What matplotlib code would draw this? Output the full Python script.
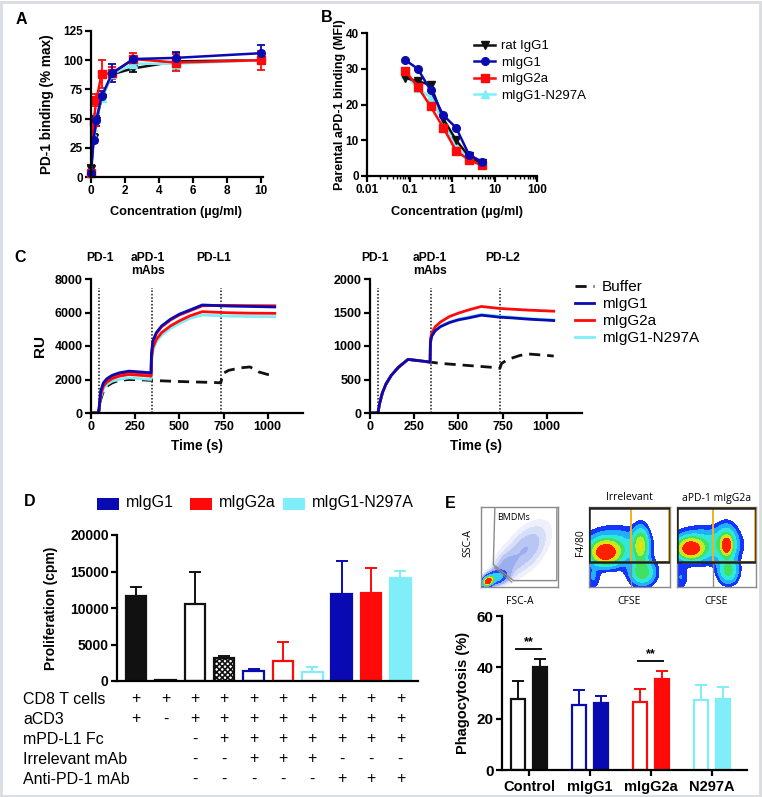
import matplotlib
matplotlib.use('Agg')
import matplotlib.pyplot as plt
import numpy as np
from matplotlib.patches import Rectangle, Polygon
import matplotlib.transforms as mtransforms

plt.rcParams['font.family'] = ['Liberation Sans', 'DejaVu Sans']
plt.rcParams['font.weight'] = 'bold'
plt.rcParams['axes.labelweight'] = 'bold'
plt.rcParams['hatch.linewidth'] = 1.2

W, H = 762, 797
BLUE = '#0A0AB2'
RED = '#FF0A0A'
CYAN = '#80EEF8'
BLACK = '#111111'

# ---------------- Panel A data ----------------
concA = [0, 0.156, 0.3125, 0.625, 1.25, 2.5, 5, 10]
A_rat = [7, 33, 48, 68, 88, 93, 99, 100]
A_rat_err = [3, 4, 4, 4, 4, 3, 7, 2]
A_n297a = [3, 35, 50, 68, 88, 97, 97, 100]
A_n297a_err = [2, 4, 4, 4, 4, 3, 5, 3]
A_mg2a = [3, 47, 66, 88, 89, 101, 98, 100]
A_mg2a_err = [2, 3, 5, 12, 5, 5, 7, 8]
A_mg1 = [3, 32, 49, 69, 89, 101, 102, 106]
A_mg1_err = [2, 2, 3, 5, 8, 3, 5, 7]

# ---------------- Panel B data ----------------
concB = [0.078, 0.156, 0.3125, 0.625, 1.25, 2.5, 5]
B_rat = [27.5, 26.5, 25.5, 16, 10, 5.5, 3.5]
B_mg1 = [32.5, 30, 24, 17, 13.5, 6, 4]
B_mg2a = [29.5, 25, 19.5, 13.5, 7, 4.5, 3]
B_n297a = [28.5, 24.5, 22, 15, 8, 5, 3.5]
B_labels = ['rat IgG1', 'mIgG1', 'mIgG2a', 'mIgG1-N297A']

# ---------------- Panel C data ----------------
tC = [0, 40, 45, 55, 70, 90, 120, 160, 215, 280, 340, 342, 350, 370, 400, 450,
      500, 560, 630, 700, 735, 800, 900, 1040]
CL_mg1 = [0, 0, 200, 1300, 1800, 2050, 2250, 2400, 2500, 2450, 2400, 3500, 4300,
          4800, 5200, 5600, 5900, 6150, 6450, 6420, 6400, 6380, 6360, 6330]
CL_mg2a_1 = [0, 0, 180, 1250, 1750, 2000, 2200, 2350, 2450, 2400, 2350, 3400, 4200,
             4750, 5150, 5550, 5850, 6100, 6400, 6420, 6430, 6420, 6410, 6400]
CL_mg2a_2 = [0, 0, 150, 1100, 1600, 1850, 2050, 2200, 2300, 2250, 2200, 3200, 3900,
             4400, 4800, 5200, 5500, 5800, 6050, 6020, 6000, 5980, 5960, 5950]
CL_n297a = [0, 0, 120, 950, 1450, 1700, 1900, 2000, 2100, 2050, 2000, 3000, 3700,
            4250, 4650, 5050, 5350, 5650, 5850, 5820, 5800, 5780, 5760, 5750]
tBuf = [0, 40, 45, 55, 70, 90, 120, 160, 215, 280, 340, 400, 500, 600, 700, 730,
        735, 745, 780, 850, 900, 950, 1000, 1040]
CL_buf = [0, 0, 100, 800, 1300, 1600, 1800, 1950, 2000, 1980, 1950, 1920, 1880,
          1850, 1820, 1800, 1800, 2350, 2550, 2700, 2750, 2450, 2300, 2220]
CR_mg1 = [0, 0, 0, 150, 300, 430, 560, 680, 800, 780, 760, 1050, 1150, 1230, 1290,
          1350, 1390, 1420, 1460, 1440, 1430, 1420, 1400, 1380]
CR_mg2a = [0, 0, 0, 150, 300, 430, 560, 680, 800, 780, 760, 1100, 1200, 1290, 1360,
           1440, 1490, 1540, 1590, 1570, 1560, 1550, 1535, 1520]
CR_n297a = [0, 0, 0, 150, 300, 430, 560, 680, 800, 780, 760, 1050, 1150, 1235, 1300,
            1360, 1400, 1435, 1470, 1455, 1445, 1430, 1410, 1390]
CR_buf = [0, 0, 0, 150, 300, 430, 560, 680, 800, 780, 760, 740, 720, 700, 680, 670,
          665, 740, 800, 860, 880, 870, 860, 850]
C_inject = [45, 345, 735]
C_leg = ['Buffer', 'mIgG1', 'mIgG2a', 'mIgG1-N297A']

# ---------------- Panel D data ----------------
D_vals = [11650, 100, 10550, 3150, 1370, 2740, 1230, 11900, 12050, 14100]
D_err = [1220, 60, 4380, 270, 270, 2600, 690, 4540, 3430, 970]
D_rows = ['CD8 T cells', 'aCD3', 'mPD-L1 Fc', 'Irrelevant mAb', 'Anti-PD-1 mAb']
D_table = [
    ['+', '+', '+', '+', '+', '+', '+', '+', '+', '+'],
    ['+', '-', '+', '+', '+', '+', '+', '+', '+', '+'],
    ['', '', '-', '+', '+', '+', '+', '+', '+', '+'],
    ['', '', '-', '-', '+', '+', '+', '-', '-', '-'],
    ['', '', '-', '-', '-', '-', '-', '+', '+', '+'],
]
D_leg = ['mIgG1', 'mIgG2a', 'mIgG1-N297A']

# ---------------- Panel E data ----------------
E_groups = ['Control', 'mIgG1', 'mIgG2a', 'N297A']
E_irr = [27.7, 25.4, 26.6, 27.3]
E_irr_err = [7.0, 5.7, 4.9, 5.8]
E_apd1 = [40.1, 26.1, 35.4, 27.5]
E_apd1_err = [3.2, 2.7, 3.1, 4.8]

# flow cytometry density blobs: (x, y, sx, sy, weight, rho)
FLOW1 = [(0.09, 0.07, 0.04, 0.035, 1.0, 0.3), (0.19, 0.12, 0.08, 0.05, 0.3, 0.3),
         (0.58, 0.47, 0.2, 0.22, 0.05, 0.55), (0.3, 0.25, 0.1, 0.12, 0.04, 0.3)]
FLOW2 = [(0.2, 0.43, 0.11, 0.09, 1.0, 0.0), (0.32, 0.5, 0.24, 0.15, 0.3, 0.0),
         (0.64, 0.52, 0.06, 0.14, 0.55, 0.0), (0.66, 0.18, 0.1, 0.1, 0.45, 0.0),
         (0.05, 0.12, 0.06, 0.1, 0.12, 0.0)]
FLOW3 = [(0.17, 0.48, 0.1, 0.08, 1.0, 0.0), (0.35, 0.52, 0.26, 0.14, 0.3, 0.0),
         (0.63, 0.52, 0.035, 0.06, 0.95, 0.0), (0.63, 0.55, 0.08, 0.14, 0.4, 0.0),
         (0.65, 0.2, 0.08, 0.1, 0.4, 0.0), (0.05, 0.12, 0.06, 0.1, 0.12, 0.0)]

fig = plt.figure(figsize=(W / 100, H / 100), dpi=100)


def axes_px(l, t, r, b):
    return fig.add_axes([l / W, 1 - b / H, (r - l) / W, (b - t) / H])


def style(ax, fs=8.5):
    for s in ['top', 'right']:
        ax.spines[s].set_visible(False)
    for s in ['left', 'bottom']:
        ax.spines[s].set_linewidth(1.6)
    ax.tick_params(width=1.6, length=4, labelsize=fs, pad=2)


def ftext(x, y, s, **kw):
    kw.setdefault('ha', 'center')
    kw.setdefault('va', 'center')
    return fig.text(x / W, 1 - y / H, s, **kw)


def ylabel_px(ax, text, x, l, r, fs=9):
    ax.set_ylabel(text, fontsize=fs)
    ax.yaxis.label.set_verticalalignment('center')
    ax.yaxis.set_label_coords((x - l) / (r - l), 0.5)


# ---------- Panel A ----------
ax = axes_px(91, 31, 263, 177)
style(ax)
for vals, err, col, mk in [(A_rat, A_rat_err, BLACK, 'v'), (A_n297a, A_n297a_err, CYAN, '^'),
                           (A_mg2a, A_mg2a_err, RED, 's'), (A_mg1, A_mg1_err, BLUE, 'o')]:
    ax.errorbar(concA, vals, yerr=err, color=col, marker=mk, ms=5.5, lw=1.8,
                capsize=3, elinewidth=1.3, capthick=1.3, clip_on=False)
ax.set_xlim(0, 10.12)
ax.set_ylim(0, 125)
ax.set_xticks([0, 2, 4, 6, 8, 10])
ax.set_yticks([0, 25, 50, 75, 100, 125])
ylabel_px(ax, 'PD-1 binding (% max)', 47, 91, 263, fs=9.8)
ftext(176, 212, 'Concentration (µg/ml)', fontsize=9.2)
ftext(21, 19, 'A', fontsize=11.5)

# ---------- Panel B ----------
ax = axes_px(367, 33, 537, 176)
style(ax)
hs = []
for vals, col, mk, lab in [(B_rat, BLACK, 'v', B_labels[0]), (B_mg1, BLUE, 'o', B_labels[1]),
                           (B_mg2a, RED, 's', B_labels[2]), (B_n297a, CYAN, '^', B_labels[3])]:
    h, = ax.plot(concB, vals, color=col, marker=mk, ms=5.5, lw=1.8, label=lab, clip_on=False)
    hs.append(h)
hs[3].set_zorder(1.5)
hs[0].set_zorder(2.6)
hs[1].set_zorder(2.8)
hs[2].set_zorder(2.7)
ax.set_xscale('log')
ax.set_xlim(0.01, 100)
ax.set_ylim(0, 40)
ax.set_xticks([0.01, 0.1, 1, 10, 100])
ax.set_xticklabels(['0.01', '0.1', '1', '10', '100'])
ax.set_yticks([0, 10, 20, 30, 40])
ax.tick_params(which='minor', width=1.0, length=2.5)
ylabel_px(ax, 'Parental aPD-1 binding (MFI)', 339.5, 367, 537, fs=9)
ftext(457, 212, 'Concentration (µg/ml)', fontsize=9.2)
ftext(327, 18, 'B', fontsize=11.5)
fig.legend(handles=hs, loc='upper left', bbox_to_anchor=(474 / W, 1 - 40 / H),
           frameon=False, prop={'weight': 'normal', 'size': 9.5}, handlelength=1.6,
           handletextpad=0.45, labelspacing=0.32, borderpad=0, borderaxespad=0)

# ---------- Panel C ----------
axL = axes_px(91, 279, 303, 413)
axR = axes_px(370, 279, 582, 413)
for a, ymax, yt in [(axL, 8000, [0, 2000, 4000, 6000, 8000]), (axR, 2000, [0, 500, 1000, 1500, 2000])]:
    style(a, fs=9)
    a.set_xlim(0, 1200)
    a.set_ylim(0, ymax)
    a.set_xticks([0, 250, 500, 750, 1000])
    a.set_yticks(yt)
    for t in C_inject:
        a.plot([t, t], [0, ymax * 0.935], color=BLACK, lw=1.1, ls=(0, (1, 1.2)))
    a.set_xlabel('Time (s)', fontsize=9.8, labelpad=4)

axL.plot(tBuf, CL_buf, color=BLACK, lw=2, ls=(0, (4, 2.5)))
axL.plot(tC, CL_n297a, color=CYAN, lw=2)
axL.plot(tC, CL_mg2a_2, color=RED, lw=2)
axL.plot(tC, CL_mg2a_1, color=RED, lw=2)
axL.plot(tC, CL_mg1, color=BLUE, lw=2)
ylabel_px(axL, 'RU', 40, 91, 303, fs=11)

hb, = axR.plot(tBuf, CR_buf, color=BLACK, lw=2, ls=(0, (4, 2.5)))
hc, = axR.plot(tC, CR_n297a, color=CYAN, lw=2)
hr, = axR.plot(tC, CR_mg2a, color=RED, lw=2)
hbl, = axR.plot(tC, CR_mg1, color=BLUE, lw=2)
fig.legend(handles=[hb, hbl, hr, hc], labels=C_leg, loc='upper left',
           bbox_to_anchor=(575 / W, 1 - 280 / H), frameon=False,
           prop={'weight': 'normal', 'size': 11}, handlelength=1.25,
           handletextpad=0.5, labelspacing=0.2, borderpad=0, borderaxespad=0)

for x, s in [(100, 'PD-1'), (148, 'aPD-1\nmAbs'), (214, 'PD-L1'),
             (375, 'PD-1'), (430, 'aPD-1\nmAbs'), (503, 'PD-L2')]:
    ftext(x, 252, s, fontsize=8.7, va='top', linespacing=1.15)
ftext(20, 257, 'C', fontsize=11.5)

# ---------- Panel D ----------
ax = axes_px(117, 535, 418, 681)
style(ax, fs=10)
xs = np.arange(len(D_vals))
faces = [BLACK, BLACK, 'white', 'white', 'white', 'white', 'white', BLUE, RED, CYAN]
edges = [BLACK, BLACK, BLACK, BLACK, BLUE, RED, CYAN, BLUE, RED, CYAN]
hatches = [None, None, None, 'xxxxxx', None, None, None, None, None, None]
for i in range(len(D_vals)):
    ax.bar(xs[i], D_vals[i], width=0.7, color=faces[i], edgecolor=edges[i],
           linewidth=1.6, hatch=hatches[i], zorder=2)
    ax.errorbar(xs[i], D_vals[i], yerr=[[0], [D_err[i]]], color=edges[i],
                capsize=4, elinewidth=1.4, capthick=1.4, zorder=1)
ax.set_xlim(-0.65, 9.6)
ax.set_ylim(0, 20000)
ax.set_yticks([0, 5000, 10000, 15000, 20000])
ax.set_xticks([])
ylabel_px(ax, 'Proliferation (cpm)', 51, 117, 418, fs=10)
tr = mtransforms.blended_transform_factory(ax.transData, fig.transFigure)
row_y = [699, 719, 739, 759, 779]
for r, lab in enumerate(D_rows):
    ftext(23, row_y[r], lab, fontsize=11.5, fontweight='normal', ha='left')
    for c, s in enumerate(D_table[r]):
        if s:
            ax.text(xs[c], 1 - row_y[r] / H, s, transform=tr, fontsize=11.5,
                    fontweight='normal', ha='center', va='center')
ftext(30, 502, 'D', fontsize=11.5)
for x0, col, lab in [(97, BLUE, D_leg[0]), (190, RED, D_leg[1]), (283, CYAN, D_leg[2])]:
    fig.add_artist(Rectangle((x0 / W, 1 - 510 / H), 22 / W, 12 / H, transform=fig.transFigure,
                             facecolor=col, edgecolor='none'))
    ftext(x0 + 29, 503, lab, fontsize=11.5, fontweight='normal', ha='left')

# ---------- Panel E: flow plots ----------
ftext(450, 503, 'E', fontsize=11.5)
gx = np.linspace(0, 1, 240)
GX, GY = np.meshgrid(gx, gx)


def density(blobs):
    d = np.zeros_like(GX)
    for x0, y0, sx, sy, w, rho in blobs:
        u = (GX - x0) / sx
        v = (GY - y0) / sy
        d += w * np.exp(-(u ** 2 - 2 * rho * u * v + v ** 2) / (2 * (1 - rho ** 2)))
    return d


levels = [0.06, 0.12, 0.22, 0.36, 0.5, 0.65, 0.8, 5]
cols_jet = ['#1535ff', '#20b0ff', '#30e8d8', '#40e060', '#b0f030', '#ffd800', '#ff2000']
FL_GRAY = '#8a8a8a'
flow_font = ['Open Sans', 'DejaVu Sans']


def frame(a):
    a.set_xlim(0, 1)
    a.set_ylim(0, 1)
    a.set_xticks([])
    a.set_yticks([])
    for s in a.spines.values():
        s.set_color(FL_GRAY)
        s.set_linewidth(1.0)


# plot 1 (SSC/FSC)
a1 = axes_px(481, 507, 558, 587)
a1.contourf(GX, GY, density(FLOW1),
            levels=[0.012, 0.022, 0.035, 0.05, 0.1, 0.2, 0.4, 0.6, 0.8, 5],
            colors=['#eef1fc', '#d6def8', '#b9c6f3', '#9aaef0', '#2a48ff', '#30d0f0',
                    '#50e050', '#ffe000', '#ff2000'])
a1.add_patch(Polygon([(0.18, 1.0), (0.16, 0.28), (0.42, 0.08), (0.985, 0.08), (0.985, 1.0)],
                     closed=False, fill=False, edgecolor=FL_GRAY, lw=1.0))
a1.plot([0.17, 0.4], [0.25, 0.06], color=FL_GRAY, lw=0.8)
frame(a1)
ftext(497, 518, 'BMDMs', fontsize=6.5, fontweight='normal', ha='left', family=flow_font)
ftext(468, 543, 'SSC-A', fontsize=7.5, fontweight='normal', rotation=90, family=flow_font)
ftext(520, 601, 'FSC-A', fontsize=7.5, fontweight='normal', family=flow_font)

for (l, r), blobs, xs_split, title in [((589, 670), FLOW2, 0.52, 'Irrelevant'),
                                      ((677, 756), FLOW3, 0.46, 'aPD-1 mIgG2a')]:
    a = axes_px(l, 507, r, 587)
    a.contourf(GX, GY, density(blobs), levels=levels, colors=cols_jet)
    a.plot([xs_split, xs_split], [0, 0.31], color=FL_GRAY, lw=1.0)
    a.add_patch(Rectangle((xs_split, 0.31), 1 - xs_split - 0.01, 0.68, fill=False,
                          edgecolor='#F0B020', lw=1.4, zorder=5))
    a.add_patch(Rectangle((0.005, 0.31), 0.99, 0.68, fill=False, edgecolor='#222222',
                          lw=1.8, zorder=6))
    ftext((l + r) / 2, 498, title, fontsize=7.5, fontweight='normal', family=flow_font)
    ftext((l + r) / 2, 601, 'CFSE', fontsize=7.5, fontweight='normal', family=flow_font)
    frame(a)
ftext(581, 543, 'F4/80', fontsize=7.5, fontweight='normal', rotation=90, family=flow_font)

# ---------- Panel E bars ----------
ax = axes_px(502, 616, 747, 770)
style(ax, fs=11)
gxs = np.arange(len(E_groups))
ecols = [BLACK, BLUE, RED, CYAN]
bw = 0.23
off = 0.18
for i in range(len(E_groups)):
    ax.bar(gxs[i] - off, E_irr[i], width=bw, color='white', edgecolor=ecols[i], lw=1.6, zorder=2)
    ax.errorbar(gxs[i] - off, E_irr[i], yerr=[[0], [E_irr_err[i]]], color=ecols[i],
                capsize=4, elinewidth=1.4, capthick=1.4, zorder=1)
    ax.bar(gxs[i] + off, E_apd1[i], width=bw, color=ecols[i], edgecolor=ecols[i], lw=1.6, zorder=2)
    ax.errorbar(gxs[i] + off, E_apd1[i], yerr=[[0], [E_apd1_err[i]]], color=ecols[i],
                capsize=4, elinewidth=1.4, capthick=1.4, zorder=1)
ax.set_xlim(-0.44, 3.57)
ax.set_ylim(0, 60)
ax.set_yticks([0, 20, 40, 60])
ax.set_xticks(gxs)
ax.set_xticklabels(E_groups, fontsize=10.5)
ax.tick_params(axis='x', pad=3)
ylabel_px(ax, 'Phagocytosis (%)', 463, 502, 747, fs=10.5)
for g, yv in [(0, 47.1), (2, 42.5)]:
    ax.plot([g - 0.21, g + 0.2], [yv, yv], color=BLACK, lw=1.4)
    ax.text(g, yv + 0.3, '**', ha='center', va='bottom', fontsize=9)

# figure border
fig.add_artist(Rectangle((0.001, 0.001), 0.997, 0.997, transform=fig.transFigure,
                         fill=False, edgecolor='#d8dde2', lw=2))

fig.savefig('out.png', dpi=100)
